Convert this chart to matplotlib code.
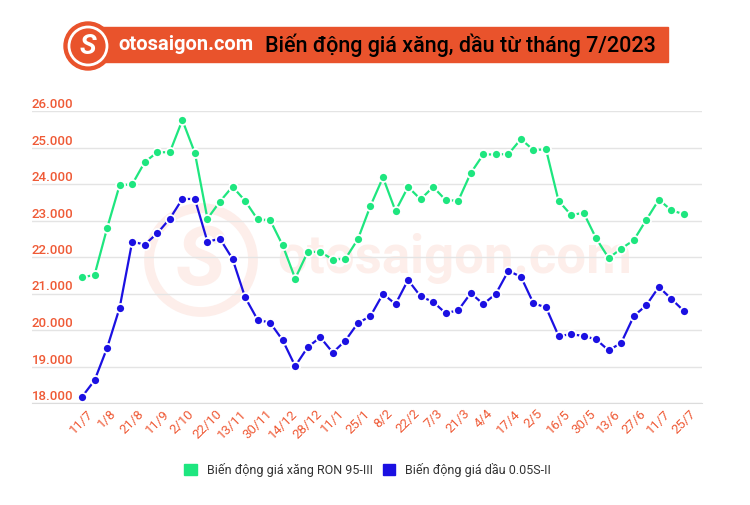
import matplotlib
matplotlib.use('Agg')
import matplotlib.pyplot as plt
from matplotlib.patches import Rectangle, Circle, Patch

plt.rcParams['font.family'] = ['Roboto', 'DejaVu Sans']

# dates of price adjustments (every other one is labelled on the axis)
dates = ['11/7', '21/7', '1/8', '11/8', '21/8', '1/9', '11/9', '21/9', '2/10', '12/10',
         '22/10', '2/11', '13/11', '21/11', '30/11', '7/12', '14/12', '21/12', '28/12', '4/1',
         '11/1', '18/1', '25/1', '1/2', '8/2', '15/2', '22/2', '29/2', '7/3', '14/3',
         '21/3', '28/3', '4/4', '11/4', '17/4', '25/4', '2/5', '9/5', '16/5', '23/5',
         '30/5', '6/6', '13/6', '20/6', '27/6', '4/7', '11/7', '18/7', '25/7']

# RON 95-III gasoline price (VND/litre)
ron95 = [21440, 21510, 22790, 23970, 23990, 24600, 24870, 24870, 25750, 24850,
         23050, 23520, 23930, 23540, 23030, 23010, 22320, 21410, 22140, 22140,
         21930, 21950, 22490, 23400, 24180, 23260, 23920, 23580, 23920, 23560,
         23540, 24300, 24810, 24810, 24820, 25230, 24930, 24950, 23540, 23150,
         23210, 22510, 21970, 22230, 22460, 23020, 23570, 23280, 23170]

# diesel 0.05S-II price (VND/litre)
diesel = [18170, 18620, 19510, 20610, 22420, 22340, 22650, 23050, 23590, 23590,
          22420, 22500, 21950, 20900, 20280, 20200, 19720, 19010, 19530, 19800,
          19380, 19710, 20190, 20380, 20990, 20710, 21370, 20920, 20770, 20460,
          20540, 21010, 20710, 20990, 21620, 21460, 20730, 20620, 19840, 19880,
          19840, 19740, 19440, 19650, 20380, 20680, 21180, 20850, 20520]

series_names = ['Biến động giá xăng RON 95-III', 'Biến động giá dầu 0.05S-II']
yticks = [18000, 19000, 20000, 21000, 22000, 23000, 24000, 25000, 26000]

green = '#1ee67f'
blue = '#1b10e2'
orange = '#ef5a36'
faint = '#fdeeea'

fig = plt.figure(figsize=(7.5, 5.05), dpi=100)

# background layer in pixel coordinates: header + watermark
bg = fig.add_axes([0, 0, 1, 1], zorder=0)
bg.set_xlim(0, 750)
bg.set_ylim(505, 0)
bg.axis('off')

bg.add_patch(Rectangle((100, 27), 568, 35, color='#e9532c'))
bg.add_patch(Circle((88, 46), 24, color='#e9532c'))
bg.add_patch(Circle((88, 46), 19, fill=False, ec='white', lw=2))
bg.text(88, 47, 'S', color='white', fontsize=20, fontweight='bold', style='italic',
        ha='center', va='center')
bg.text(118, 45, 'otosaigon.com', color='white', fontsize=14.5, fontweight='bold',
        ha='left', va='center')
bg.text(265, 45, 'Biến động giá xăng, dầu từ tháng 7/2023', color='black', fontsize=15.5,
        fontweight='medium', ha='left', va='center')

# faint watermark
bg.add_patch(Circle((201, 260), 52, fill=False, ec=faint, lw=7))
bg.text(201, 262, 'S', color=faint, fontsize=60, fontweight='bold', style='italic',
        ha='center', va='center')
bg.text(455, 258, 'otosaigon.com', color=faint, fontsize=38, fontweight='bold',
        ha='center', va='center')

ax = fig.add_axes([32 / 750, 1 - 403 / 505, 670 / 750, 292 / 505], zorder=1)
ax.patch.set_alpha(0)

x = list(range(len(dates)))
ax.plot(x, ron95, color=green, lw=1.6, marker='o', ms=6.5, mec='white', mew=1.3,
        clip_on=False, zorder=3)
ax.plot(x, diesel, color=blue, lw=1.6, marker='o', ms=6.5, mec='white', mew=1.3,
        clip_on=False, zorder=3)

ax.set_xlim(-3.99, 49.44)
ax.set_ylim(18000, 26000)

ylabels = [f'{v:,}'.replace(',', '.') for v in yticks]
ax.set_yticks(yticks, labels=ylabels, ha='left', va='bottom', fontweight='medium')
ax.tick_params(axis='y', length=0, pad=0, labelsize=9.5, labelcolor=orange)

ax.set_xticks(x[::2], labels=dates[::2], rotation=45, ha='center')
ax.tick_params(axis='x', length=0, pad=3, labelsize=9.5, labelcolor=orange)

ax.grid(axis='y', color='#e4e4e4', lw=1)
ax.set_axisbelow(True)
for s in ['top', 'right', 'left']:
    ax.spines[s].set_visible(False)
ax.spines['bottom'].set_color('#dcdcdc')

handles = [Patch(color=green), Patch(color=blue)]
fig.legend(handles, series_names, loc='center', bbox_to_anchor=(0.49, 1 - 470 / 505),
           ncol=2, frameon=False, fontsize=9, handlelength=1.0, handleheight=1.0,
           columnspacing=0.8, handletextpad=0.8, labelcolor='#333333')

fig.savefig('out.png', dpi=100)
